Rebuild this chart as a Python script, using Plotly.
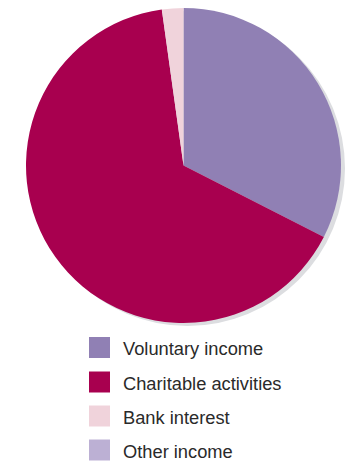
import plotly.graph_objects as go

# Data
labels = ["Voluntary income", "Charitable activities", "Bank interest", "Other income"]
values = [32.5, 65.3, 2.2, 0.0]
colors = ["#9080b4", "#a8004f", "#f0d3db", "#bcb0d4"]

W, H = 349, 462

def px_x(x):
    return x / W

def px_y(y):
    return 1 - y / H

# pie geometry in pixels
left, right, top, bottom = 26, 341, 8, 323
sdx, sdy = 4, 3

fig = go.Figure()

# shadow
fig.add_trace(go.Pie(
    values=[1], labels=["shadow"], marker=dict(colors=["#dcdde0"], line=dict(width=0)),
    textinfo="none", hoverinfo="skip", showlegend=False, sort=False,
    domain=dict(x=[px_x(left + sdx), px_x(right + sdx)], y=[px_y(bottom + sdy), px_y(top + sdy)]),
))

fig.add_trace(go.Pie(
    labels=labels, values=values, sort=False, direction="clockwise", rotation=0,
    marker=dict(colors=colors, line=dict(width=0)),
    textinfo="none", showlegend=False,
    domain=dict(x=[px_x(left), px_x(right)], y=[px_y(bottom), px_y(top)]),
))

# custom legend
row_y = [347.5, 382, 416, 450]
sq = 21
shapes = []
annotations = []
for lab, col, cy in zip(labels, colors, row_y):
    shapes.append(dict(type="rect", xref="paper", yref="paper",
                       x0=px_x(89), x1=px_x(89 + sq), y0=px_y(cy - sq / 2), y1=px_y(cy + sq / 2),
                       fillcolor=col, line=dict(width=0)))
    annotations.append(dict(text=lab, xref="paper", yref="paper", x=px_x(121), y=px_y(cy + 1),
                            xanchor="left", yanchor="middle", showarrow=False,
                            font=dict(family="Liberation Sans, Arial, sans-serif", size=18.3, color="#2a2a2a")))

fig.update_layout(
    width=W, height=H, margin=dict(l=0, r=0, t=0, b=0),
    paper_bgcolor="white", plot_bgcolor="white",
    shapes=shapes, annotations=annotations,
)

fig.write_html("out.html")
